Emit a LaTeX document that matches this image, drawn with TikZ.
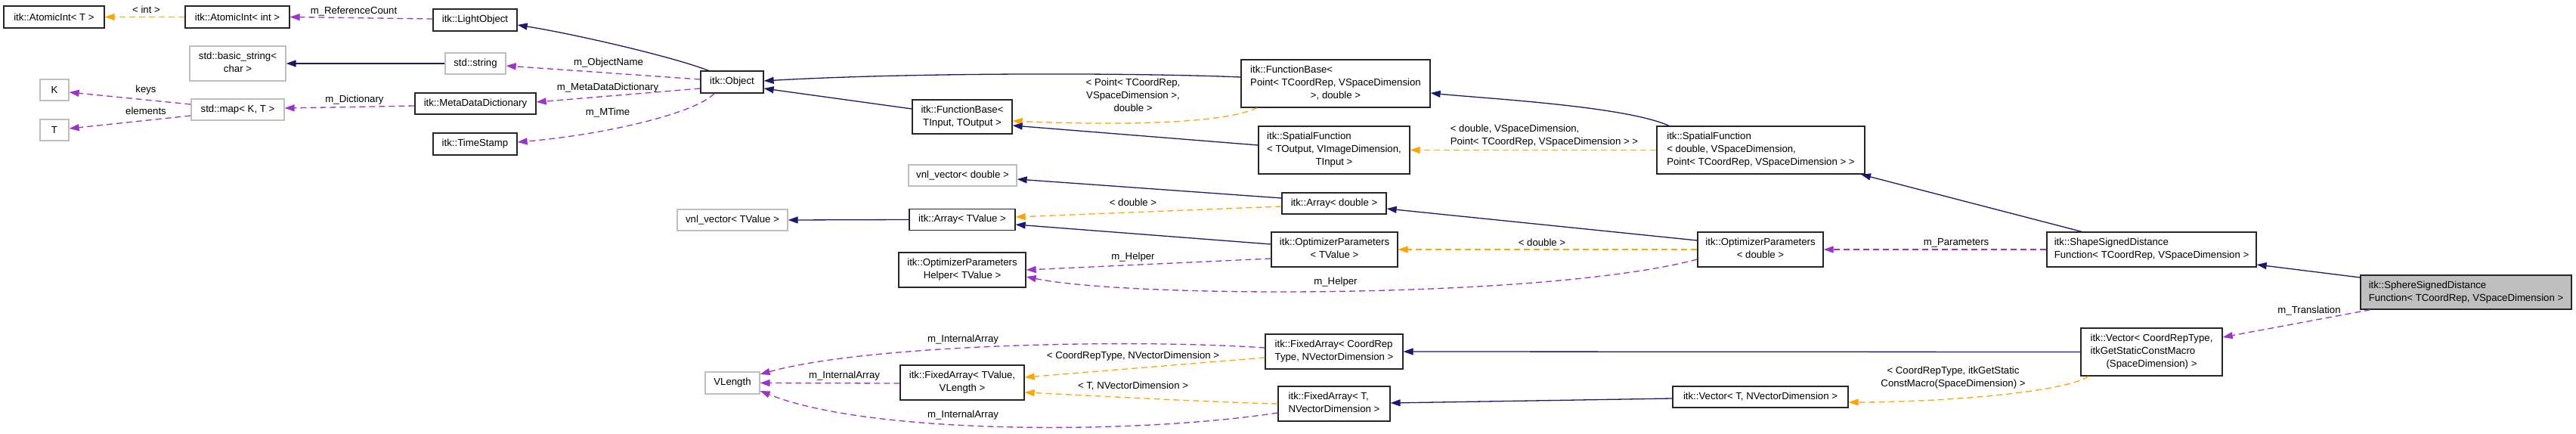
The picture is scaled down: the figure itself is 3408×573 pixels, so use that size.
\documentclass[tikz,border=0pt]{standalone}
\usepackage{fontspec}
\setmainfont{Liberation Sans}
\usetikzlibrary{arrows.meta,calc}
\definecolor{mblue}{HTML}{191970}
\definecolor{dorange}{HTML}{FFA500}
\definecolor{dorchid}{HTML}{9A32CD}
\definecolor{gseven}{HTML}{BFBFBF}
\newcommand{\cl}[1]{\multicolumn{1}{@{}c@{}}{#1}}
\newcommand{\tb}[1]{\begin{tabular}{@{}l@{}}#1\end{tabular}}
\begin{document}
\begin{tikzpicture}[x=1pt,y=-1pt,
  box/.style={draw=black!85, line width=1.3pt, fill=white, inner sep=0pt, font=\fontsize{13.2}{17}\selectfont},
  gbox/.style={box, draw=gseven},
  sbox/.style={box, fill=gseven},
  lbl/.style={inner sep=0pt, font=\fontsize{13.2}{17}\selectfont, align=center},
  tipk/.style={-{Triangle[length=13pt,width=9pt]}},
  inh/.style={draw=mblue, line width=1.3pt, tipk},
  tmpl/.style={draw=dorange, line width=1.3pt, dash pattern=on 8pt off 5pt, tipk},
  usg/.style={draw=dorchid, line width=1.3pt, dash pattern=on 8pt off 5pt, tipk}]
\fill[white] (0,0) rectangle (3408,573);
\useasboundingbox (0,0) rectangle (3408,573);

% nodes
\node[box, minimum width=133pt, minimum height=29pt] (AIT) at (71.5,22.5) {itk::AtomicInt< T >};
\node[box, minimum width=138pt, minimum height=29pt] (AII) at (314,22.5) {itk::AtomicInt< int >};
\node[box, minimum width=111pt, minimum height=29pt] (LO) at (628.5,26.5) {itk::LightObject};
\node[gbox, minimum width=127pt, minimum height=46pt] (BS) at (314.5,84) {\tb{std::basic\_string<\\\cl{char >}}};
\node[gbox, minimum width=80pt, minimum height=28pt] (SS) at (629,84) {std::string};
\node[gbox, minimum width=38pt, minimum height=28pt] (K) at (72,119) {K};
\node[gbox, minimum width=123pt, minimum height=28pt] (MAP) at (314.5,145) {std::map< K, T >};
\node[gbox, minimum width=38pt, minimum height=28pt] (T) at (72,172) {T};
\node[box, minimum width=160pt, minimum height=28pt] (MDD) at (629,137) {itk::MetaDataDictionary};
\node[box, minimum width=111pt, minimum height=29pt] (TS) at (628.5,190.5) {itk::TimeStamp};
\node[box, minimum width=83pt, minimum height=29pt] (OBJ) at (968.5,108.5) {itk::Object};
\node[gbox, minimum width=146pt, minimum height=28pt] (VNLT) at (969,291) {vnl\_vector< TValue >};
\node[gbox, minimum width=72pt, minimum height=29pt] (VL) at (969,506.5) {VLength};
\node[box, minimum width=250pt, minimum height=63pt] (FBP) at (1767,110.5) {\tb{itk::FunctionBase<\\\cl{Point< TCoordRep, VSpaceDimension}\\\cl{>, double >}}};
\node[box, minimum width=132pt, minimum height=45pt] (FBT) at (1273,154.5) {\tb{itk::FunctionBase<\\\cl{TInput, TOutput >}}};
\node[box, minimum width=200pt, minimum height=63pt] (SFT) at (1765,198.5) {\tb{itk::SpatialFunction\\< TOutput, VImageDimension,\\\cl{TInput >}}};
\node[gbox, minimum width=143pt, minimum height=28pt] (VNLD) at (1273.5,232) {vnl\_vector< double >};
\node[box, minimum width=138pt, minimum height=28pt] (AD) at (1765,269) {itk::Array< double >};
\node[box, minimum width=140pt, minimum height=28pt] (AT) at (1273,290.5) {itk::Array< TValue >};
\node[box, minimum width=167pt, minimum height=46pt] (OPT) at (1765.5,330) {\tb{itk::OptimizerParameters\\\cl{< TValue >}}};
\node[box, minimum width=168pt, minimum height=46pt] (OPH) at (1273,357) {\tb{itk::OptimizerParameters\\\cl{Helper< TValue >}}};
\node[box, minimum width=182pt, minimum height=46pt] (FA1) at (1765,465) {\tb{itk::FixedArray< CoordRep\\\cl{Type, NVectorDimension >}}};
\node[box, minimum width=164pt, minimum height=46pt] (FAV) at (1273,506) {\tb{itk::FixedArray< TValue,\\\cl{VLength >}}};
\node[box, minimum width=148pt, minimum height=46pt] (FAT) at (1765,534) {\tb{itk::FixedArray< T,\\\cl{NVectorDimension >}}};
\node[box, minimum width=275pt, minimum height=63pt] (SFD) at (2329.5,198.5) {\tb{itk::SpatialFunction\\< double, VSpaceDimension,\\ Point< TCoordRep, VSpaceDimension > >}};
\node[box, minimum width=166pt, minimum height=46pt] (OPD) at (2329,330) {\tb{itk::OptimizerParameters\\\cl{< double >}}};
\node[box, minimum width=277pt, minimum height=46pt] (SSD) at (2846.5,330) {\tb{itk::ShapeSignedDistance\\Function< TCoordRep, VSpaceDimension >}};
\node[sbox, minimum width=279pt, minimum height=45pt] (SPH) at (3262.5,386.5) {\tb{itk::SphereSignedDistance\\Function< TCoordRep, VSpaceDimension >}};
\node[box, minimum width=187pt, minimum height=63pt] (VECC) at (2846.5,465.5) {\tb{itk::Vector< CoordRepType,\\itkGetStaticConstMacro\\\cl{(SpaceDimension) >}}};
\node[box, minimum width=232pt, minimum height=28pt] (VECT) at (2329,525) {itk::Vector< T, NVectorDimension >};

% edges
\draw[tmpl] (AII.west) -- (AIT.east);
\draw[usg] ($(LO.west)+(0,-1.5)$) -- (AII.east);
\draw[inh] ($(OBJ.north)+(-31,0)$) .. controls (890,75) and (760,45) .. ($(LO.east)+(0,6.5)$);
\draw[inh] (SS.west) -- (BS.east);
\draw[usg] ($(OBJ.west)+(0,-3.5)$) -- ($(SS.east)+(0,3)$);
\draw[usg] ($(OBJ.west)+(0,8.5)$) -- ($(MDD.east)+(0,-2)$);
\draw[usg] ($(MDD.west)+(0,3)$) -- ($(MAP.east)+(0,-2)$);
\draw[usg] ($(MAP.west)+(0,-7)$) -- ($(K.east)+(0,3)$);
\draw[usg] ($(MAP.west)+(0,8)$) -- ($(T.east)+(0,-2)$);
\draw[usg] ($(OBJ.south)+(-23.5,0)$) .. controls (920,150) and (800,178) .. ($(TS.east)+(0,-2.5)$);
\draw[inh] ($(FBP.west)+(0,-8.5)$) .. controls (1500,96) and (1200,96) .. ($(OBJ.east)+(0,-1.5)$);
\draw[inh] ($(FBT.west)+(0,-10.5)$) -- ($(OBJ.east)+(0,8.5)$);
\draw[tmpl] ($(FBP.south)+(-104,0)$) .. controls (1610,168) and (1430,164) .. ($(FBT.east)+(0,5.5)$);
\draw[inh] ($(SFT.west)+(0,-6.5)$) -- ($(FBT.east)+(0,11.5)$);
\draw[inh] ($(SFD.north)+(-121.5,0)$) .. controls (2150,140) and (1960,130) .. ($(FBP.east)+(0,12.5)$);
\draw[tmpl] (SFD.west) -- (SFT.east);
\draw[inh] ($(SSD.north)+(-92.5,0)$) -- ($(SFD.south)+(132.5,0)$);
\draw[inh] ($(AD.west)+(0,-7)$) -- ($(VNLD.east)+(0,5)$);
\draw[tmpl] ($(AD.west)+(0,4)$) -- ($(AT.east)+(0,-3.5)$);
\draw[inh] (AT.west) -- (VNLT.east);
\draw[inh] ($(OPT.west)+(0,-7)$) -- ($(AT.east)+(0,6.5)$);
\draw[usg] ($(OPT.west)+(0,12)$) -- (OPH.east);
\draw[usg] ($(OPD.west)+(0,13)$) .. controls (2050,395) and (1500,395) .. ($(OPH.east)+(0,9)$);
\draw[tmpl] (OPD.west) -- (OPT.east);
\draw[inh] ($(OPD.west)+(0,-12)$) -- ($(AD.east)+(0,7)$);
\draw[usg] (SSD.west) -- (OPD.east);
\draw[inh] ($(SPH.west)+(0,-19.5)$) -- ($(SSD.east)+(0,20)$);
\draw[usg] ($(SPH.south)+(-126.5,0)$) -- ($(VECC.east)+(0,-19.5)$);
\draw[inh] (VECC.west) -- (FA1.east);
\draw[tmpl] ($(VECC.south)+(-83.5,0)$) .. controls (2730,520) and (2560,532) .. ($(VECT.east)+(0,7)$);
\draw[inh] ($(VECT.west)+(0,2)$) -- ($(FAT.east)+(0,-1)$);
\draw[tmpl] ($(FA1.west)+(0,8)$) -- ($(FAV.east)+(0,-7)$);
\draw[tmpl] (FAT.west) .. controls (1600,532) and (1420,522) .. ($(FAV.east)+(0,13)$);
\draw[usg] ($(FA1.west)+(0,-5)$) .. controls (1500,448) and (1150,455) .. ($(VL.east)+(0,-11.5)$);
\draw[usg] ($(FAV.west)+(0,1)$) -- (VL.east);
\draw[usg] ($(FAT.west)+(0,12)$) .. controls (1500,575) and (1150,575) .. ($(VL.east)+(0,10.5)$);

% labels
\node[lbl] (l1) at (193.5,13) {< int >};
\node[lbl] (l2) at (468,15) {m\_ReferenceCount};
\node[lbl] (l3) at (805,83) {m\_ObjectName};
\node[lbl] (l4) at (804,116) {m\_MetaDataDictionary};
\node[lbl] (l5) at (469,132) {m\_Dictionary};
\node[lbl] (l6) at (193,119) {keys};
\node[lbl] (l7) at (193,147) {elements};
\node[lbl] (l8) at (804,149) {m\_MTime};
\node[lbl] (l9) at (1499,126) {< Point< TCoordRep,\\VSpaceDimension >,\\double >};
\node[lbl] (l10) at (1499,268) {< double >};
\node[lbl, align=left] (l11) at (2043,180) {< double, VSpaceDimension,\\Point< TCoordRep, VSpaceDimension > >};
\node[lbl] (l12) at (1499,340) {m\_Helper};
\node[lbl] (l13) at (1767,373) {m\_Helper};
\node[lbl] (l14) at (2040,321) {< double >};
\node[lbl] (l15) at (2588,321) {m\_Parameters};
\node[lbl] (l16) at (3055,411) {m\_Translation};
\node[lbl] (l17) at (2584,500) {< CoordRepType, itkGetStatic\\ConstMacro(SpaceDimension) >};
\node[lbl] (l18) at (1274,449) {m\_InternalArray};
\node[lbl] (l19) at (1499,471) {< CoordRepType, NVectorDimension >};
\node[lbl] (l20) at (1117,497) {m\_InternalArray};
\node[lbl] (l21) at (1499,511) {< T, NVectorDimension >};
\node[lbl] (l22) at (1274,549) {m\_InternalArray};
\end{tikzpicture}
\end{document}
